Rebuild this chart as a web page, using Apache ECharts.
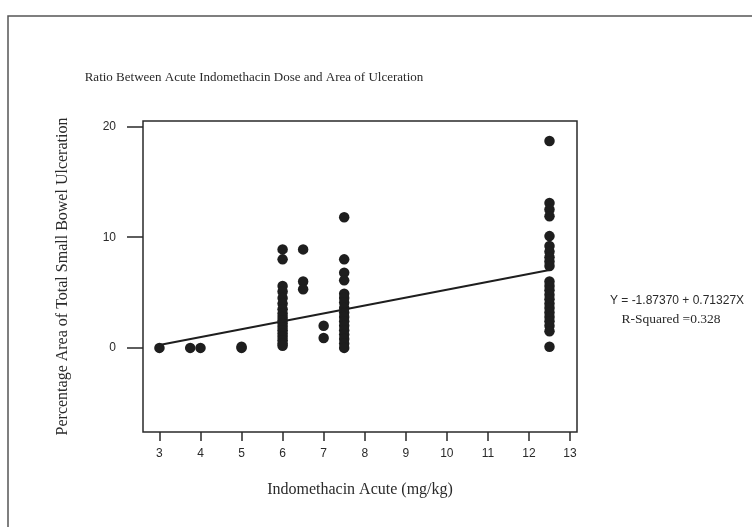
<!DOCTYPE html>
<html>
<head>
<meta charset="utf-8">
<script src="https://cdn.jsdelivr.net/npm/echarts@6/dist/echarts.min.js"></script>
<style>
  html, body { margin: 0; padding: 0; background: #fff; }
  #chart { width: 752px; height: 527px; }
</style>
</head>
<body>
<div id="chart"></div>
<script>
// dose (mg/kg) and % ulcerated area
var dose3 = [3, 3.75, 4, 5, 5];
var ulc3 = [0, 0, 0, 0, 0.1];

var dose6 = [6, 6, 6, 6, 6, 6, 6, 6, 6, 6, 6, 6, 6, 6, 6, 6, 6, 6];
var ulc6 = [8.9, 8.0, 5.6, 5.1, 4.5, 4.0, 3.5, 3.1, 2.8, 2.5, 2.2, 1.9, 1.6, 1.3, 1.0, 0.7, 0.4, 0.2];

var dose65 = [6.5, 6.5, 6.5, 7, 7];
var ulc65 = [8.9, 6.0, 5.3, 2.0, 0.9];

var dose75 = [7.5, 7.5, 7.5, 7.5, 7.5, 7.5, 7.5, 7.5, 7.5, 7.5, 7.5, 7.5, 7.5, 7.5, 7.5, 7.5, 7.5];
var ulc75 = [11.8, 8.0, 6.8, 6.1, 4.9, 4.5, 4.1, 3.6, 3.2, 2.8, 2.4, 2.0, 1.6, 1.2, 0.8, 0.4, 0.0];

var dose125 = [12.5, 12.5, 12.5, 12.5, 12.5, 12.5, 12.5, 12.5, 12.5, 12.5, 12.5, 12.5, 12.5,
  12.5, 12.5, 12.5, 12.5, 12.5, 12.5, 12.5, 12.5, 12.5, 12.5];
var ulc125 = [18.7, 13.1, 12.5, 11.9, 10.1, 9.2, 8.7, 8.2, 7.8, 7.4, 6.0, 5.6, 5.2, 4.8,
  4.4, 4.0, 3.6, 3.2, 2.8, 2.4, 2.0, 1.5, 0.1];

// fitted line end points
var fitX = [3, 12.5];
var fitY = [0.27, 7.04];

var xTicks = [3, 4, 5, 6, 7, 8, 9, 10, 11, 12, 13];
var yTicks = [0, 10, 20];

var eqText = "Y = -1.87370 + 0.71327X";
var rsqText = "R-Squared =0.328";

var pts = [];
[[dose3, ulc3], [dose6, ulc6], [dose65, ulc65], [dose75, ulc75], [dose125, ulc125]].forEach(function (g) {
  for (var i = 0; i < g[0].length; i++) pts.push([g[0][i], g[1][i]]);
});
var fit = fitX.map(function (x, i) { return [x, fitY[i]]; });

var myChart = echarts.init(document.getElementById("chart"));
var ink = "#2a2a2a";
var serif = "'Liberation Serif', 'DejaVu Serif', serif";
var sans = "'Liberation Sans', Arial, sans-serif";

var option = {
  backgroundColor: "#fff",
  animation: false,
  title: {
    text: "Ratio Between Acute Indomethacin Dose and Area of Ulceration",
    left: 249,
    top: 66,
    textAlign: "center",
    textStyle: { fontFamily: serif, fontSize: 13, fontWeight: "normal", color: ink }
  },
  grid: {
    left: 143, top: 121, right: 175, bottom: 95,
    show: true, borderColor: ink, borderWidth: 1.5
  },
  xAxis: {
    type: "value",
    min: 2.6, max: 13.17,
    name: "Indomethacin Acute (mg/kg)",
    nameLocation: "middle",
    nameGap: 50,
    nameTextStyle: { fontFamily: serif, fontSize: 16, color: ink },
    axisLine: { show: false, onZero: false },
    axisTick: { show: true, inside: false, length: 9, customValues: xTicks, lineStyle: { color: ink, width: 1.5 } },
    axisLabel: { customValues: xTicks, margin: 16, fontFamily: sans, fontSize: 12, color: ink },
    splitLine: { show: false }
  },
  yAxis: {
    type: "value",
    min: -7.6, max: 20.5,
    name: "Percentage Area of Total Small Bowel Ulceration",
    nameLocation: "middle",
    nameGap: 72,
    nameRotate: 90,
    nameTextStyle: { fontFamily: serif, fontSize: 16, color: ink },
    axisLine: { show: false, onZero: false },
    axisTick: { show: true, inside: false, length: 16, customValues: yTicks, lineStyle: { color: ink, width: 1.5 } },
    axisLabel: { customValues: yTicks, margin: 27, fontFamily: sans, fontSize: 12, color: ink },
    splitLine: { show: false }
  },
  graphic: [
    {
      type: "rect",
      shape: { x: 8, y: 16, width: 800, height: 600 },
      style: { fill: null, stroke: "#555", lineWidth: 1.5 },
      silent: true, z: -1
    },
    {
      type: "text", x: 677, y: 295,
      style: { text: eqText, textAlign: "center", font: "12px " + sans, fill: ink }
    },
    {
      type: "text", x: 671, y: 312,
      style: { text: rsqText, textAlign: "center", font: "13.5px " + serif, fill: ink }
    }
  ],
  series: [
    {
      type: "scatter",
      data: pts,
      symbolSize: 10.5,
      itemStyle: { color: "#1e1e1e", opacity: 1 }
    },
    {
      type: "line",
      data: fit,
      symbol: "none",
      lineStyle: { color: "#1e1e1e", width: 2 },
      z: 3
    }
  ]
};

myChart.setOption(option, true);
</script>
</body>
</html>
